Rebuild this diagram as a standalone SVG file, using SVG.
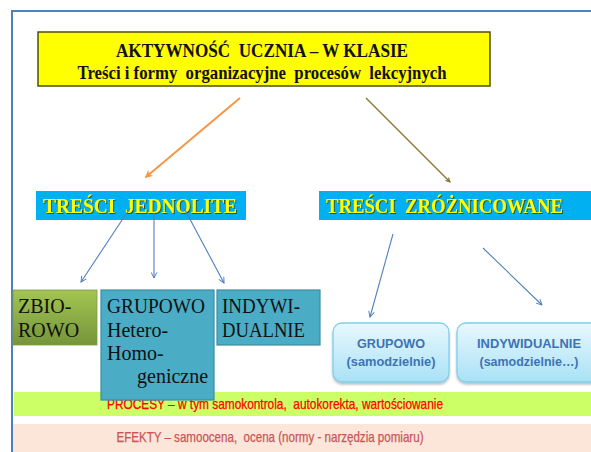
<svg xmlns="http://www.w3.org/2000/svg" width="591" height="452" viewBox="0 0 591 452">
  <style>
    text { white-space: pre; }
    .serifB { font-family: "Liberation Serif", "Times New Roman", serif; font-weight: bold; }
    .serif { font-family: "Liberation Serif", "Times New Roman", serif; font-size: 20px; fill: #111; }
    .sans { font-family: "Liberation Sans", Arial, sans-serif; }
    .band { font-size: 14.5px; stroke-width: 0.25; text-anchor: middle; }
    .teal { fill: #4BACC6; stroke: #3A8CA3; stroke-width: 1.2; }
    .cyanbar { fill: #00B0F0; }
    .ytext { fill: #FFFF00; font-size: 20px; filter: url(#tshadow); }
    .soft { fill: url(#softBlue); stroke: #7FCDEB; stroke-width: 1.3; filter: url(#boxshadow); }
    .softtext { fill: #3D73B3; font-size: 13px; font-weight: bold; text-anchor: middle; }
    .blue { stroke: #4F81BD; stroke-width: 1.1; fill: none; marker-end: url(#arrBlue); }
  </style>
  <defs>
    <linearGradient id="olive" x1="0" y1="0" x2="0" y2="1">
      <stop offset="0" stop-color="#A2C552"/>
      <stop offset="1" stop-color="#76953A"/>
    </linearGradient>
    <linearGradient id="softBlue" x1="0" y1="0" x2="0" y2="1">
      <stop offset="0" stop-color="#E8F8FE"/>
      <stop offset="1" stop-color="#A9E1F6"/>
    </linearGradient>
    <filter id="tshadow" x="-5%" y="-20%" width="110%" height="150%">
      <feDropShadow dx="1" dy="1" stdDeviation="0.4" flood-color="#3A3A00" flood-opacity="0.8"/>
    </filter>
    <filter id="boxshadow" x="-10%" y="-10%" width="120%" height="130%">
      <feDropShadow dx="0" dy="2" stdDeviation="1.2" flood-color="#000" flood-opacity="0.25"/>
    </filter>
    <marker id="arrBlue" viewBox="0 0 10 10" refX="9" refY="5" markerWidth="7" markerHeight="7" orient="auto" markerUnits="userSpaceOnUse">
      <path d="M1,1 L9,5 L1,9" fill="none" stroke="#4F81BD" stroke-width="1.4"/>
    </marker>
    <marker id="arrOrange" viewBox="0 0 10 10" refX="8" refY="5" markerWidth="8" markerHeight="8" orient="auto" markerUnits="userSpaceOnUse">
      <path d="M0,0 L10,5 L0,10 L3,5 Z" fill="#F79646"/>
    </marker>
    <marker id="arrBrown" viewBox="0 0 10 10" refX="8" refY="5" markerWidth="6" markerHeight="6" orient="auto" markerUnits="userSpaceOnUse">
      <path d="M0,0 L10,5 L0,10 L3,5 Z" fill="#8C7A36"/>
    </marker>
  </defs>

  <rect x="0" y="0" width="591" height="452" fill="#FFFFFF"/>

  <!-- outer frame -->
  <g id="frame" fill="none" stroke="#4F81BD" stroke-width="2">
    <path d="M12,452 L12,11 L591,11"/>
  </g>

  <!-- bands -->
  <g id="procesy">
    <rect x="14" y="392" width="577" height="24" fill="#CCFF66"/>
    <text class="sans band" x="275" y="409" fill="#FF0000" stroke="#FF0000" textLength="336" lengthAdjust="spacingAndGlyphs">PROCESY – w tym samokontrola,  autokorekta, wartościowanie</text>
  </g>
  <g id="efekty">
    <rect x="13" y="424" width="578" height="28" fill="#FCE6D9"/>
    <text class="sans band" x="270" y="442" fill="#C9555A" stroke="#C9555A" textLength="307" lengthAdjust="spacingAndGlyphs">EFEKTY – samoocena,  ocena (normy - narzędzia pomiaru)</text>
  </g>

  <!-- title -->
  <g id="title">
    <rect x="38" y="32" width="452" height="54" fill="#FFFF00" stroke="#4D4D10" stroke-width="1.5"/>
    <text class="serifB" x="262" y="57" font-size="19" fill="#111" text-anchor="middle" textLength="292" lengthAdjust="spacingAndGlyphs">AKTYWNOŚĆ  UCZNIA – W KLASIE</text>
    <text class="serifB" x="262" y="79" font-size="19" fill="#111" text-anchor="middle" textLength="369" lengthAdjust="spacingAndGlyphs">Treści i formy  organizacyjne  procesów  lekcyjnych</text>
  </g>

  <!-- category bars -->
  <g id="tresci-jednolite">
    <rect class="cyanbar" x="36" y="191" width="210" height="29"/>
    <text class="serifB ytext" x="43" y="213" textLength="194" lengthAdjust="spacingAndGlyphs">TREŚCI  JEDNOLITE</text>
  </g>
  <g id="tresci-zroznicowane">
    <rect class="cyanbar" x="319" y="191" width="272" height="29"/>
    <text class="serifB ytext" x="326" y="213" textLength="237" lengthAdjust="spacingAndGlyphs">TREŚCI  ZRÓŻNICOWANE</text>
  </g>

  <!-- left sub-boxes -->
  <g id="zbiorowo">
    <rect x="13" y="290" width="84" height="55" fill="url(#olive)" stroke="#7E9B45" stroke-width="0.8"/>
    <text class="serif" x="18" y="312.5">ZBIO-</text>
    <text class="serif" x="18" y="336.5">ROWO</text>
  </g>
  <g id="grupowo-left">
    <rect class="teal" x="101" y="290" width="113" height="110"/>
    <text class="serif" x="107" y="312.5" textLength="98" lengthAdjust="spacingAndGlyphs">GRUPOWO</text>
    <text class="serif" x="107" y="336.5">Hetero-</text>
    <text class="serif" x="107" y="360">Homo-</text>
    <text class="serif" x="137" y="383">geniczne</text>
  </g>
  <g id="indywidualnie-left">
    <rect class="teal" x="217" y="290" width="103" height="55"/>
    <text class="serif" x="222" y="312.5" textLength="78" lengthAdjust="spacingAndGlyphs">INDYWI-</text>
    <text class="serif" x="222" y="336.5" textLength="83" lengthAdjust="spacingAndGlyphs">DUALNIE</text>
  </g>

  <!-- right sub-boxes -->
  <g id="grupowo-right">
    <rect class="soft" x="333" y="323" width="116" height="59" rx="9"/>
    <text class="sans softtext" x="391" y="348" textLength="68" lengthAdjust="spacingAndGlyphs">GRUPOWO</text>
    <text class="sans softtext" x="391" y="366" font-weight="normal" textLength="89" lengthAdjust="spacingAndGlyphs">(samodzielnie)</text>
  </g>
  <g id="indywidualnie-right">
    <rect class="soft" x="457" y="323" width="150" height="59" rx="9"/>
    <text class="sans softtext" x="529" y="348" textLength="104" lengthAdjust="spacingAndGlyphs">INDYWIDUALNIE</text>
    <text class="sans softtext" x="529" y="366" font-weight="normal" textLength="99" lengthAdjust="spacingAndGlyphs">(samodzielnie…)</text>
  </g>

  <!-- connectors -->
  <g id="connectors">
    <line x1="240" y1="98" x2="146" y2="177" stroke="#F79646" stroke-width="2" marker-end="url(#arrOrange)"/>
    <line x1="366" y1="98" x2="450" y2="182" stroke="#8C7A36" stroke-width="1.4" marker-end="url(#arrBrown)"/>
    <line class="blue" x1="130" y1="208" x2="81" y2="282"/>
    <line class="blue" x1="154" y1="213" x2="154" y2="278"/>
    <line class="blue" x1="184" y1="208" x2="224" y2="283"/>
    <line class="blue" x1="393" y1="234" x2="370" y2="317"/>
    <line class="blue" x1="483" y1="248" x2="542" y2="305"/>
  </g>
</svg>
